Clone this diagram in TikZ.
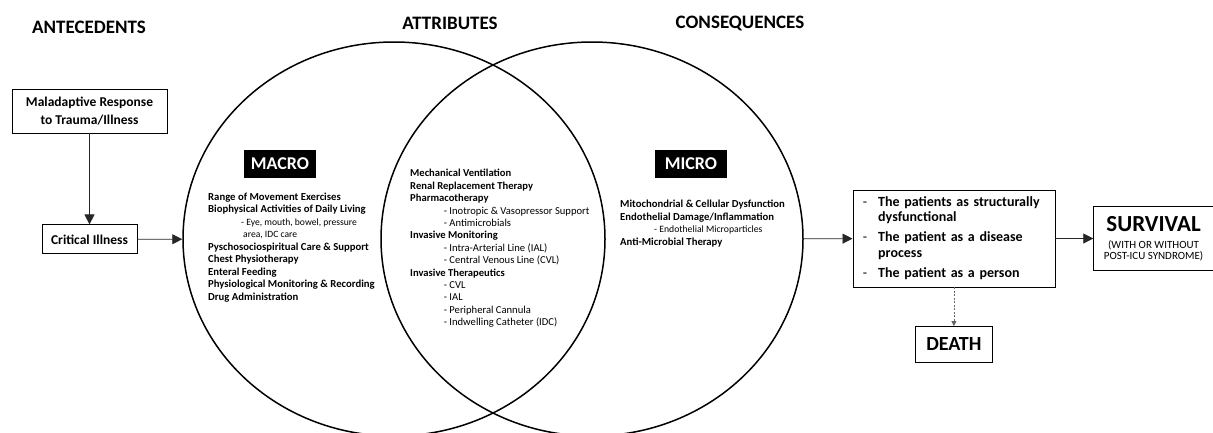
\documentclass[tikz,border=0pt]{standalone}
\usepackage{fontspec}
\setmainfont{Carlito}
\usetikzlibrary{positioning,arrows.meta,shapes.geometric}

\tikzstyle{box} = [rectangle, draw, line width=0.8pt, align=center, inner sep=0pt]
\tikzstyle{tag} = [rectangle, fill=black, text=white, font=\fontsize{18}{20}\selectfont\bfseries, minimum width=72pt, minimum height=28pt, inner sep=0pt]
\tikzstyle{venn} = [ellipse, draw, line width=1.5pt, minimum width=422pt, minimum height=394pt, inner sep=0pt]
\tikzstyle{heading} = [font=\fontsize{19}{22}\selectfont\bfseries]
\tikzstyle{list} = [anchor=north west, align=left, inner sep=0pt, font=\fontsize{10.7}{12.5}\selectfont\bfseries]
\tikzstyle{arrow} = [line width=0.8pt, black!85, -{Triangle[length=10pt,width=10pt]}]
\tikzstyle{dasharrow} = [line width=0.8pt, black!60, dash pattern=on 2pt off 1.5pt, -{Triangle[length=5pt,width=5pt]}]

\newcommand{\subln}[2][9.6]{{\mdseries\fontsize{#1}{12.5}\selectfont #2}}

\begin{document}
\begin{tikzpicture}
    [x=1pt, y=-1pt, auto]
  \useasboundingbox (0,0) rectangle (1213,432);
  \clip (0,0) rectangle (1213,432);
  \node[heading] (ante) at (89,27) {ANTECEDENTS};
  \node[heading] (attr) at (450,23) {ATTRIBUTES};
  \node[heading] (conseq) at (740,23) {CONSEQUENCES};
  \node[venn] (macroset) at (394,239) {};
  \node[venn] (microset) at (592,239) {};
  \node[tag] (macro) at (280,164) {MACRO};
  \node[tag] (micro) at (691,164) {MICRO};
  \node[list] (macrolist) at (208,192.3) {Range of Movement Exercises\\
    Biophysical Activities of Daily Living\\
    \hspace*{33pt}\subln{- Eye, mouth, bowel, pressure}\\
    \hspace*{35pt}\subln{area, IDC care}\\
    Pyschosociospiritual Care \& Support\\
    Chest Physiotherapy\\
    Enteral Feeding\\
    Physiological Monitoring \& Recording\\
    Drug Administration};
  \node[list, font=\fontsize{10.6}{12.4}\selectfont\bfseries] (bothlist) at (410,169.3) {Mechanical Ventilation\\
    Renal Replacement Therapy\\
    Pharmacotherapy\\
    \hspace*{33.6pt}\subln[10.6]{- Inotropic \& Vasopressor Support}\\
    \hspace*{33.6pt}\subln[10.6]{- Antimicrobials}\\
    Invasive Monitoring\\
    \hspace*{33.6pt}\subln[10.6]{- Intra-Arterial Line (IAL)}\\
    \hspace*{33.6pt}\subln[10.6]{- Central Venous Line (CVL)}\\
    Invasive Therapeutics\\
    \hspace*{33.6pt}\subln[10.6]{- CVL}\\
    \hspace*{33.6pt}\subln[10.6]{- IAL}\\
    \hspace*{33.6pt}\subln[10.6]{- Peripheral Cannula}\\
    \hspace*{33.6pt}\subln[10.6]{- Indwelling Catheter (IDC)}};
  \node[list] (microlist) at (620,199.8) {Mitochondrial \& Cellular Dysfunction\\
    Endothelial Damage/Inflammation\\
    \hspace*{34pt}\subln[9.7]{- Endothelial Microparticles}\\
    Anti-Microbial Therapy};
  \node[box, minimum width=155pt, minimum height=44pt, font=\fontsize{13.5}{17.4}\selectfont\bfseries] (mal) at (89.5,111) {Maladaptive Response\\to Trauma/Illness};
  \node[box, below=91pt of mal, minimum width=95pt, minimum height=29pt, font=\fontsize{13.5}{16}\selectfont\bfseries] (crit) {Critical Illness};
  \node[box, text width=182pt, align=left, inner xsep=10pt, minimum height=97pt, font=\fontsize{14}{15.5}\selectfont\bfseries] (cons) at (953.9,238.5) {%
    \begin{tabular}{@{}p{15.3pt}@{}l@{}}
    \mdseries - & The patients as structurally\\
      & dysfunctional\\[4.5pt]
    \mdseries - & The patient as a disease\\
      & process\\[4.5pt]
    \mdseries - & The patient as a person
    \end{tabular}};
  \node[box, right=38pt of cons, minimum width=119.7pt, minimum height=64pt, font=\fontsize{11}{11}\selectfont] (surv) {{\fontsize{23}{23}\selectfont\bfseries SURVIVAL}\\[6pt](WITH OR WITHOUT\\POST-ICU SYNDROME)};
  \node[box, below=38.7pt of cons, minimum width=77.6pt, minimum height=36pt, font=\fontsize{20}{22}\selectfont\bfseries] (death) {DEATH};
  \draw [arrow] (mal) -- (crit);
  \draw [arrow] (crit) -- (macroset);
  \draw [arrow] (microset) -- (cons);
  \draw [arrow] (cons) -- (surv);
  \draw [dasharrow] (cons) -- (death);
\end{tikzpicture}
\end{document}
